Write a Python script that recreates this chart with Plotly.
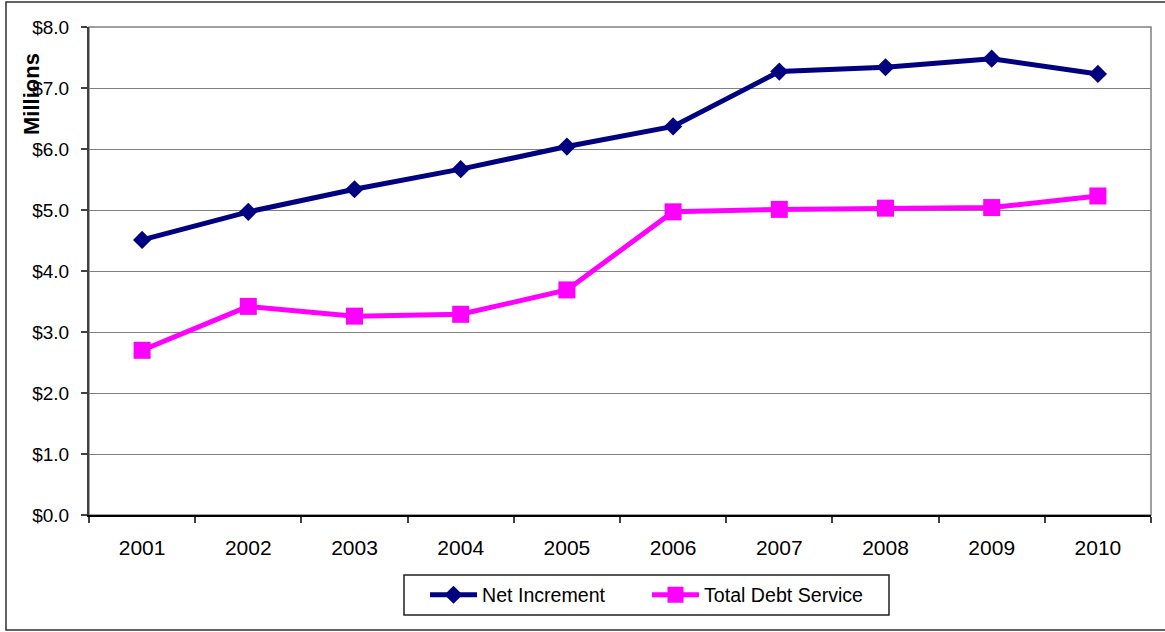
import plotly.graph_objects as go

# Annual figures, in millions of dollars
years = ["2001", "2002", "2003", "2004", "2005", "2006", "2007", "2008", "2009", "2010"]
net_increment = [4.51, 4.97, 5.34, 5.67, 6.04, 6.37, 7.27, 7.34, 7.48, 7.23]
total_debt_service = [2.70, 3.42, 3.26, 3.29, 3.69, 4.97, 5.01, 5.03, 5.04, 5.23]
y_ticks = [0, 1, 2, 3, 4, 5, 6, 7, 8]
y_tick_labels = ["$%.1f" % v for v in y_ticks]

FONT = "Liberation Sans, Arial, sans-serif"
W, H = 1165, 632
L, R, T, B = 89, 1151, 27, 515  # plot-area edges in px


def px_to_paper_x(px):
    return (px - L) / (R - L)


def px_to_paper_y(py):
    return (B - py) / (B - T)


fig = go.Figure()

fig.add_trace(go.Scatter(
    x=years, y=net_increment, name="Net Increment",
    mode="lines+markers",
    line=dict(color="#000080", width=5),
    marker=dict(symbol="diamond", size=14, color="#000080"),
))
fig.add_trace(go.Scatter(
    x=years, y=total_debt_service, name="Total Debt Service",
    mode="lines+markers",
    line=dict(color="#FF00FF", width=5),
    marker=dict(symbol="square", size=17, color="#FF00FF"),
))

shapes = [
    # plot-area frame (top/right edges)
    dict(type="rect", xref="paper", yref="paper", x0=0, x1=1, y0=0, y1=1,
         line=dict(color="#808080", width=1.5), layer="below"),
    # outer chart border
    dict(type="rect", xref="paper", yref="paper",
         x0=px_to_paper_x(6), x1=px_to_paper_x(1175),
         y0=px_to_paper_y(630), y1=px_to_paper_y(2),
         line=dict(color="#303030", width=1.5)),
    # legend box
    dict(type="rect", xref="paper", yref="paper",
         x0=px_to_paper_x(404), x1=px_to_paper_x(889),
         y0=px_to_paper_y(615), y1=px_to_paper_y(575),
         line=dict(color="#202020", width=1.5)),
]

annotations = [
    dict(text="<b>Millions</b>", xref="paper", yref="paper",
         x=px_to_paper_x(31.5), y=px_to_paper_y(94.5),
         xanchor="center", yanchor="middle", textangle=-90, showarrow=False,
         font=dict(family=FONT, size=22, color="#000000")),
]

fig.update_layout(
    width=W, height=H,
    margin=dict(l=L, r=W - R, t=T, b=H - B, pad=0),
    paper_bgcolor="#FFFFFF", plot_bgcolor="#FFFFFF",
    font=dict(family=FONT, size=19, color="#000000"),
    showlegend=True,
    legend=dict(
        orientation="h",
        x=px_to_paper_x(425), y=px_to_paper_y(595),
        xanchor="left", yanchor="middle",
        borderwidth=0, bgcolor="rgba(0,0,0,0)",
        font=dict(family=FONT, size=19.6, color="#000000"),
        itemwidth=47, entrywidth=160, traceorder="normal",
    ),
    shapes=shapes,
    annotations=annotations,
)

fig.update_xaxes(
    type="category", range=[-0.5, 9.5], tickson="boundaries",
    ticks="outside", ticklen=6, tickcolor="#404040", tickwidth=1.5,
    showline=True, linecolor="#000000", linewidth=1.5,
    showgrid=False, ticklabelstandoff=13,
    tickfont=dict(family=FONT, size=21, color="#000000"),
)
fig.update_yaxes(
    range=[0, 8], tickvals=y_ticks, ticktext=y_tick_labels,
    ticks="outside", ticklen=6, tickcolor="#404040", tickwidth=1.5,
    showline=True, linecolor="#404040", linewidth=2,
    showgrid=True, gridcolor="#808080", gridwidth=1.2,
    zeroline=False, ticklabelstandoff=8,
    tickfont=dict(family=FONT, size=19, color="#000000"),
)

fig.write_html("out.html")
